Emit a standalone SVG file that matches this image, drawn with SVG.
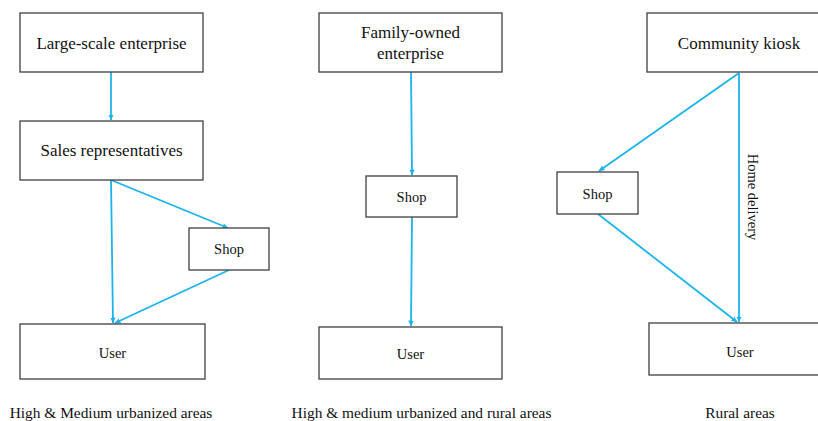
<svg xmlns="http://www.w3.org/2000/svg" width="818" height="421" viewBox="0 0 818 421">
<defs>
<marker id="ah" markerWidth="7" markerHeight="7" refX="5.5" refY="3.5" orient="auto" markerUnits="userSpaceOnUse">
<path d="M0,0.8 L6,3.5 L0,6.2 Z" fill="#1db4ec"/>
</marker>
<style>
.box{fill:#fff;stroke:#3f3f3f;stroke-width:1.3}
text{font-family:'Liberation Serif','DejaVu Serif',serif;fill:#111;text-anchor:middle}
.big{font-size:17px}
.sm{font-size:14.5px}
.cap{font-size:15.4px}
.c{stroke:#1db4ec;stroke-width:1.8;fill:none;marker-end:url(#ah)}
</style>
</defs>
<rect width="818" height="421" fill="#fff"/>
<g id="connectors">
<line class="c" x1="111" y1="72" x2="111" y2="120"/>
<line class="c" x1="111" y1="180" x2="113" y2="323"/>
<line class="c" x1="111" y1="180" x2="228" y2="228"/>
<line class="c" x1="229" y1="270" x2="115" y2="323"/>
<line class="c" x1="411" y1="72" x2="412" y2="175"/>
<line class="c" x1="412" y1="217" x2="411" y2="326"/>
<line class="c" x1="739" y1="73" x2="599" y2="171"/>
<line class="c" x1="739" y1="73" x2="739" y2="322"/>
<line class="c" x1="598" y1="214" x2="737" y2="322"/>
</g>
<g id="large-scale">
<rect class="box" x="20" y="13" width="183" height="59"/>
<text class="big" x="111.5" y="49">Large-scale enterprise</text>
</g>
<g id="sales-reps">
<rect class="box" x="20" y="121" width="183" height="59"/>
<text class="big" x="111.5" y="156">Sales representatives</text>
</g>
<g id="shop-left">
<rect class="box" x="189" y="228" width="80" height="42"/>
<text class="sm" x="229" y="254">Shop</text>
</g>
<g id="user-left">
<rect class="box" x="20" y="324" width="185" height="55"/>
<text class="sm" x="112.5" y="358">User</text>
</g>
<g id="family-owned">
<rect class="box" x="319" y="13" width="183" height="59"/>
<text class="big" x="410.5" y="38">Family-owned</text>
<text class="big" x="410.5" y="59">enterprise</text>
</g>
<g id="shop-middle">
<rect class="box" x="366" y="176" width="91" height="41"/>
<text class="sm" x="411.5" y="202">Shop</text>
</g>
<g id="user-middle">
<rect class="box" x="319" y="327" width="183" height="52"/>
<text class="sm" x="410.5" y="359">User</text>
</g>
<g id="community-kiosk">
<rect class="box" x="647" y="13" width="175" height="59"/>
<text class="big" x="739" y="49">Community kiosk</text>
</g>
<g id="shop-right">
<rect class="box" x="557" y="172" width="81" height="42"/>
<text class="sm" x="597.5" y="199">Shop</text>
</g>
<g id="user-right">
<rect class="box" x="649" y="323" width="173" height="52"/>
<text class="sm" x="740" y="357">User</text>
</g>
<text class="sm" font-size="15" transform="translate(748,197) rotate(90)" x="0" y="0">Home delivery</text>
<text class="cap" x="111" y="418">High &amp; Medium urbanized areas</text>
<text class="cap" x="421.5" y="418">High &amp; medium urbanized and rural areas</text>
<text class="cap" x="740" y="418">Rural areas</text>
</svg>
